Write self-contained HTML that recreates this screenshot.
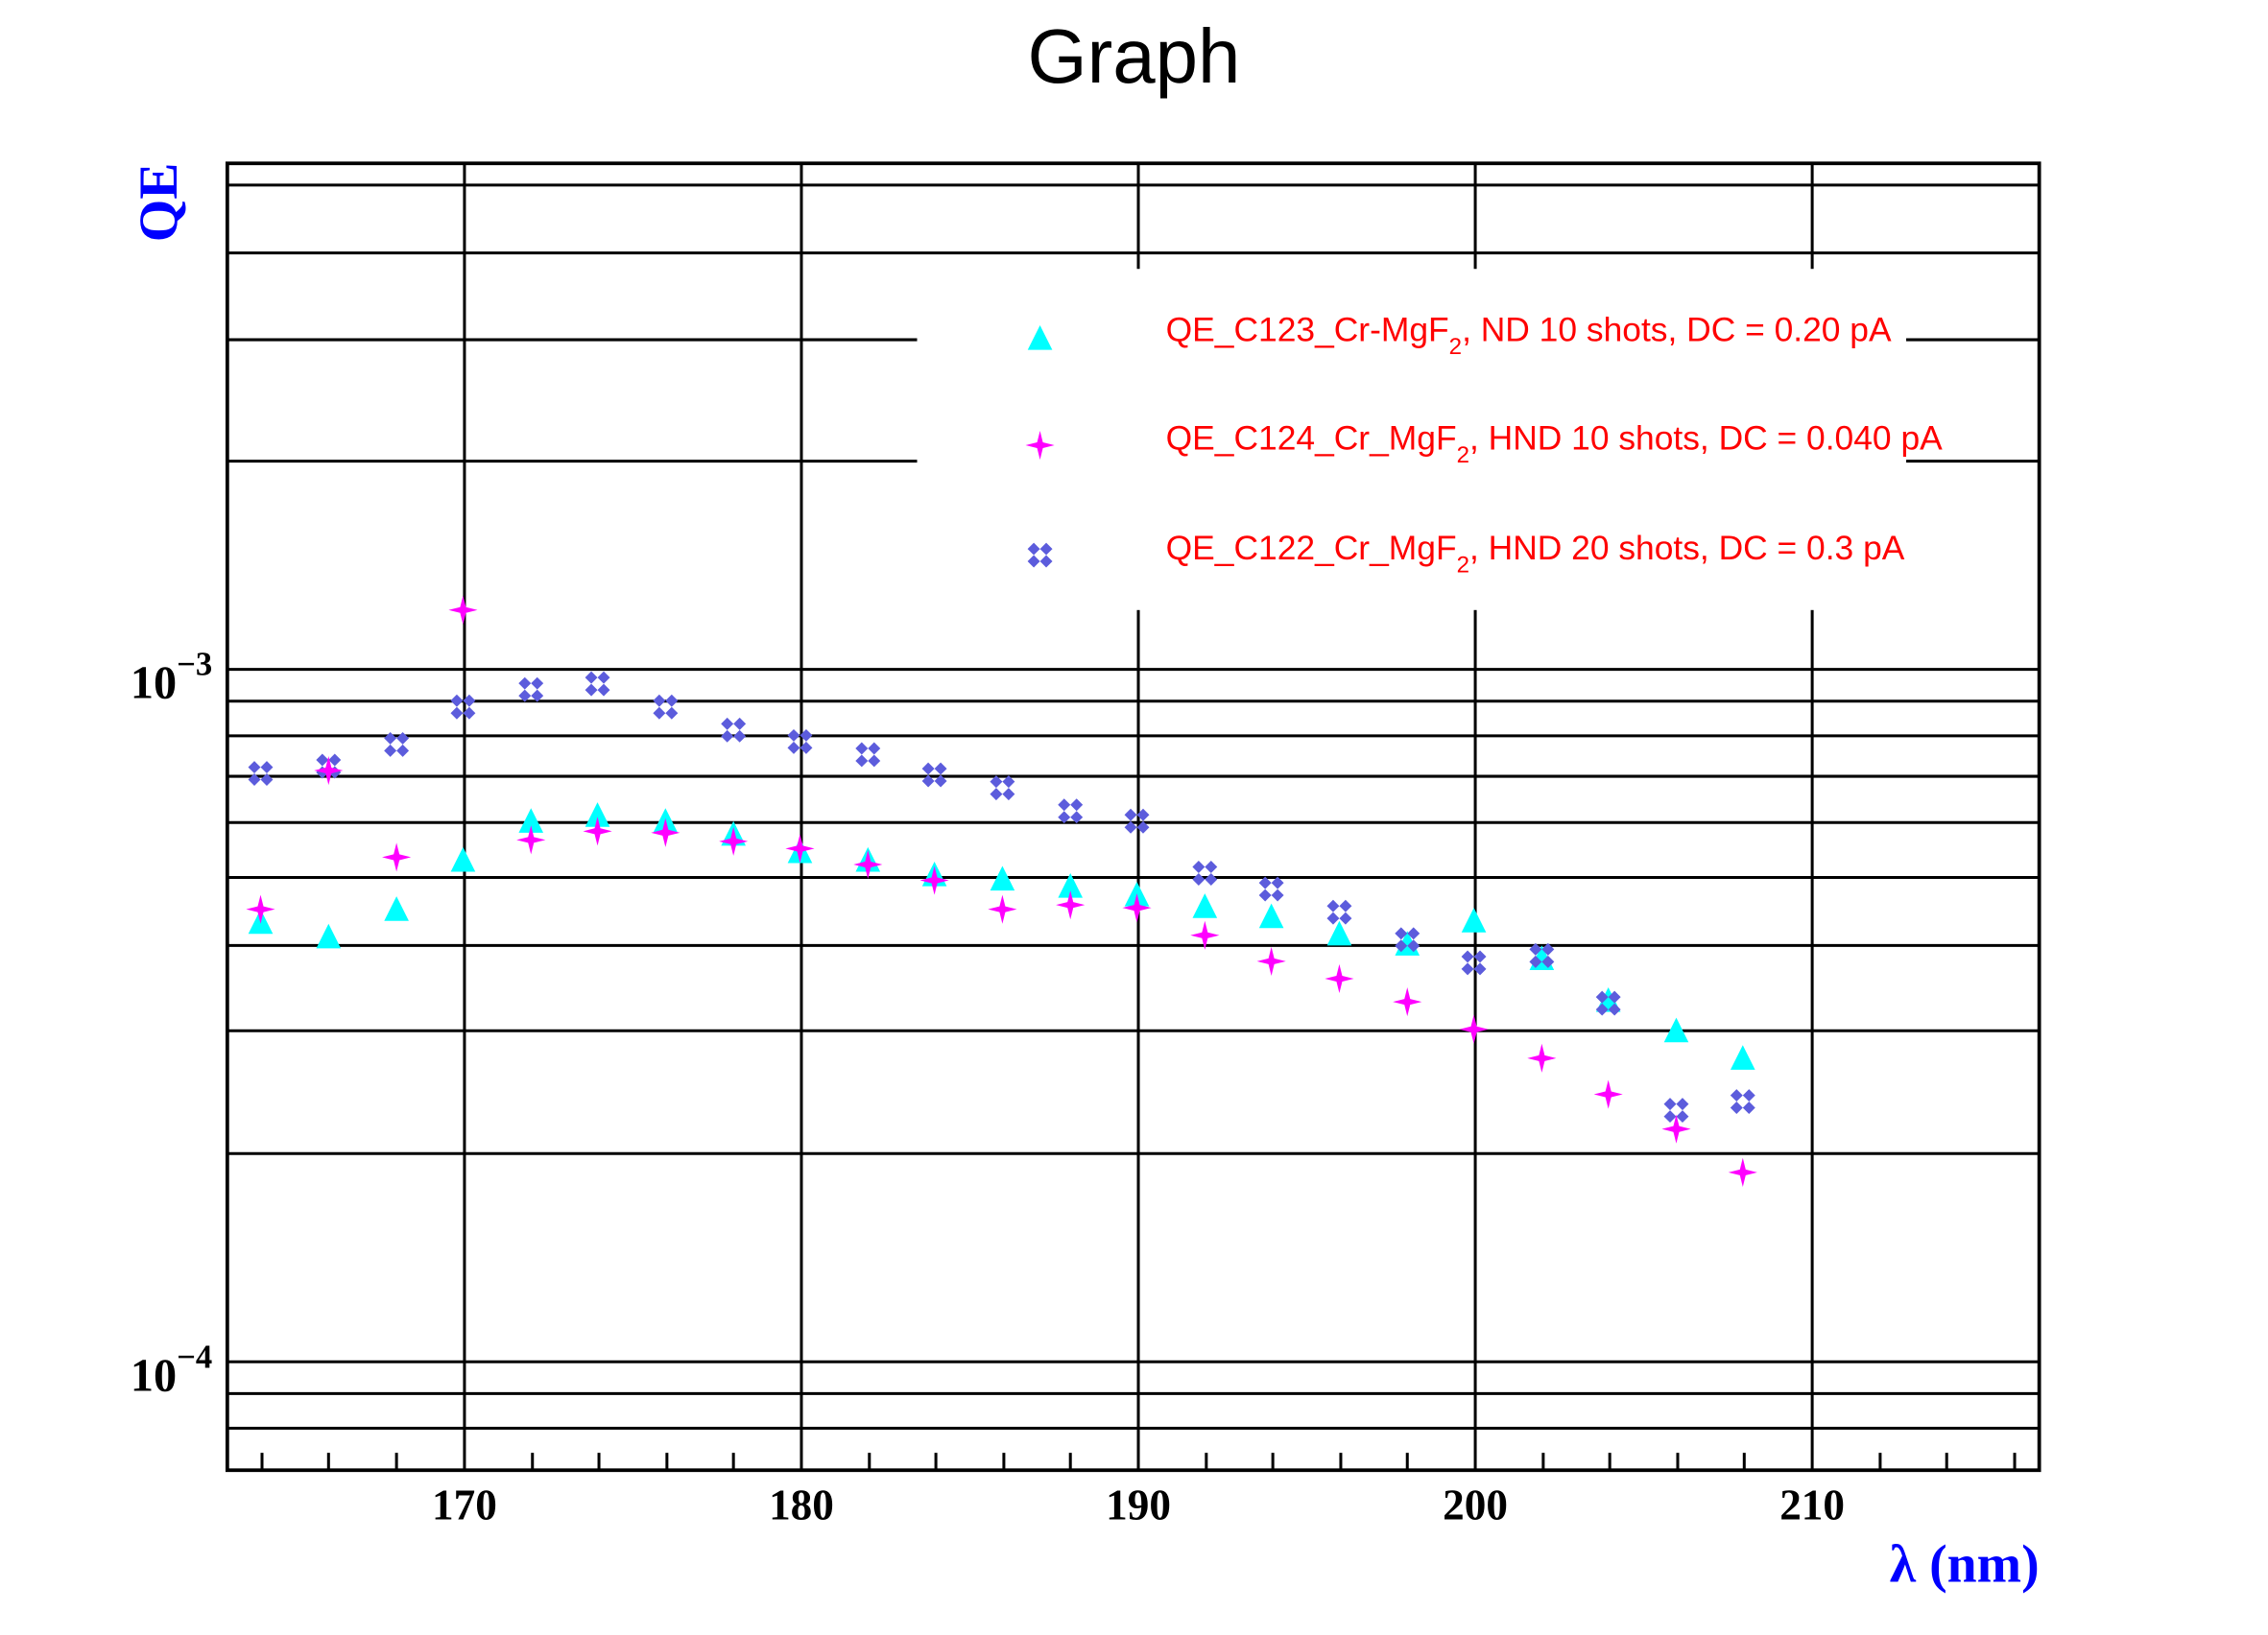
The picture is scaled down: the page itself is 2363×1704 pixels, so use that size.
<!DOCTYPE html>
<html><head><meta charset="utf-8"><style>html,body{margin:0;padding:0;background:#fff}svg{display:block}</style></head>
<body>
<svg width="2363" height="1704" viewBox="0 0 1568 1131" xmlns="http://www.w3.org/2000/svg">
<defs>
<polygon id="tri" points="0,-10 -8.5,7 8.5,7" fill="#00ffff"/>
<polygon id="star" points="0,-10 2,-2 10,0 2,2 0,10 -2,2 -10,0 -2,-2" fill="#ff00ff"/>
<g id="crs" fill="#5c5cdc"><polygon points="-4.3,-8.6 0,-4.3 -4.3,0 -8.6,-4.3"/><polygon points="4.3,-8.6 8.6,-4.3 4.3,0 0,-4.3"/><polygon points="-4.3,0 0,4.3 -4.3,8.6 -8.6,4.3"/><polygon points="4.3,0 8.6,4.3 4.3,8.6 0,4.3"/></g>
</defs>
<rect width="1568" height="1131" fill="#fff"/>
<text x="784" y="57" font-family="Liberation Sans, sans-serif" font-size="53" text-anchor="middle">Graph</text>
<g stroke="#000" stroke-width="2">
<line x1="157" x2="1410" y1="128" y2="128"/><line x1="157" x2="1410" y1="175" y2="175"/>
<line x1="157" x2="1410" y1="235" y2="235"/><line x1="157" x2="1410" y1="319" y2="319"/>
<line x1="157" x2="1410" y1="463" y2="463"/><line x1="157" x2="1410" y1="485" y2="485"/>
<line x1="157" x2="1410" y1="509" y2="509"/><line x1="157" x2="1410" y1="537" y2="537"/>
<line x1="157" x2="1410" y1="569" y2="569"/><line x1="157" x2="1410" y1="607" y2="607"/>
<line x1="157" x2="1410" y1="654" y2="654"/><line x1="157" x2="1410" y1="713" y2="713"/>
<line x1="157" x2="1410" y1="798" y2="798"/><line x1="157" x2="1410" y1="942" y2="942"/>
<line x1="157" x2="1410" y1="964" y2="964"/><line x1="157" x2="1410" y1="988" y2="988"/>
<line x1="321" x2="321" y1="113" y2="1017"/><line x1="554" x2="554" y1="113" y2="1017"/>
<line x1="787" x2="787" y1="113" y2="1017"/><line x1="1020" x2="1020" y1="113" y2="1017"/>
<line x1="1253" x2="1253" y1="113" y2="1017"/>
</g>
<g stroke="#000" stroke-width="2">
<path d="M181 1017v-12M227 1017v-12M274 1017v-12M368 1017v-12M414 1017v-12M461 1017v-12M507 1017v-12M601 1017v-12M647 1017v-12M694 1017v-12M740 1017v-12M834 1017v-12M880 1017v-12M927 1017v-12M973 1017v-12M1067 1017v-12M1113 1017v-12M1160 1017v-12M1206 1017v-12M1300 1017v-12M1346 1017v-12M1393 1017v-12"/>
</g>
<rect x="634" y="186" width="684" height="236" fill="#fff"/>
<rect x="157" y="113" width="1253" height="904" fill="none" stroke="#000" stroke-width="2.5"/>
<g font-family="Liberation Serif, serif" font-weight="bold" font-size="30" text-anchor="middle">
<text x="321" y="1051">170</text><text x="554" y="1051">180</text><text x="787" y="1051">190</text><text x="1020" y="1051">200</text><text x="1253" y="1051">210</text>
</g>
<g font-family="Liberation Serif, serif" font-weight="bold">
<text x="90" y="483" font-size="32">10</text><text x="122" y="467" font-size="23">−3</text>
<text x="90" y="962" font-size="32">10</text><text x="122" y="946" font-size="23">−4</text>
</g>
<text transform="translate(122,140) rotate(-90)" font-family="Liberation Serif, serif" font-weight="bold" font-size="38" fill="#0000ff" text-anchor="middle">QE</text>
<text x="1410" y="1094" font-family="Liberation Serif, serif" font-weight="bold" font-size="37" fill="#0000ff" text-anchor="end">λ (nm)</text>
<g font-family="Liberation Sans, sans-serif" font-size="23.5" fill="#ff0000">
<text x="806" y="236">QE_C123_Cr-MgF<tspan font-size="16" dy="9">2</tspan><tspan dy="-9">, ND 10 shots, DC = 0.20 pA</tspan></text>
<text x="806" y="311">QE_C124_Cr_MgF<tspan font-size="16" dy="9">2</tspan><tspan dy="-9">, HND 10 shots, DC = 0.040 pA</tspan></text>
<text x="806" y="387">QE_C122_Cr_MgF<tspan font-size="16" dy="9">2</tspan><tspan dy="-9">, HND 20 shots, DC = 0.3 pA</tspan></text>
</g>
<use href="#tri" x="719" y="235"/><use href="#star" x="719" y="308"/><use href="#crs" x="719" y="384"/>
<g>
<use href="#tri" x="180" y="639"/><use href="#tri" x="227" y="649"/><use href="#tri" x="274" y="630"/><use href="#tri" x="320" y="596"/><use href="#tri" x="367" y="569"/><use href="#tri" x="413" y="565"/><use href="#tri" x="460" y="569"/><use href="#tri" x="507" y="578"/><use href="#tri" x="553" y="590"/><use href="#tri" x="600" y="596"/><use href="#tri" x="646" y="606"/><use href="#tri" x="693" y="609"/><use href="#tri" x="740" y="614"/><use href="#tri" x="786" y="620"/><use href="#tri" x="833" y="628"/><use href="#tri" x="879" y="635"/><use href="#tri" x="926" y="647"/><use href="#tri" x="973" y="654"/><use href="#tri" x="1019" y="638"/><use href="#tri" x="1066" y="664"/><use href="#tri" x="1112" y="693"/><use href="#tri" x="1159" y="714"/><use href="#tri" x="1205" y="733"/>
<use href="#crs" x="180" y="535"/><use href="#crs" x="227" y="530"/><use href="#crs" x="274" y="515"/><use href="#crs" x="320" y="489"/><use href="#crs" x="367" y="477"/><use href="#crs" x="413" y="473"/><use href="#crs" x="460" y="489"/><use href="#crs" x="507" y="505"/><use href="#crs" x="553" y="513"/><use href="#crs" x="600" y="522"/><use href="#crs" x="646" y="536"/><use href="#crs" x="693" y="545"/><use href="#crs" x="740" y="561"/><use href="#crs" x="786" y="568"/><use href="#crs" x="833" y="604"/><use href="#crs" x="879" y="615"/><use href="#crs" x="926" y="631"/><use href="#crs" x="973" y="650"/><use href="#crs" x="1019" y="666"/><use href="#crs" x="1066" y="661"/><use href="#crs" x="1112" y="694"/><use href="#crs" x="1159" y="768"/><use href="#crs" x="1205" y="762"/>
<use href="#star" x="180" y="629"/><use href="#star" x="227" y="533"/><use href="#star" x="274" y="593"/><use href="#star" x="320" y="422"/><use href="#star" x="367" y="581"/><use href="#star" x="413" y="575"/><use href="#star" x="460" y="576"/><use href="#star" x="507" y="582"/><use href="#star" x="553" y="587"/><use href="#star" x="600" y="598"/><use href="#star" x="646" y="609"/><use href="#star" x="693" y="629"/><use href="#star" x="740" y="626"/><use href="#star" x="786" y="628"/><use href="#star" x="833" y="647"/><use href="#star" x="879" y="665"/><use href="#star" x="926" y="677"/><use href="#star" x="973" y="693"/><use href="#star" x="1019" y="712"/><use href="#star" x="1066" y="732"/><use href="#star" x="1112" y="757"/><use href="#star" x="1159" y="781"/><use href="#star" x="1205" y="811"/>
</g>
</svg>
</body></html>
